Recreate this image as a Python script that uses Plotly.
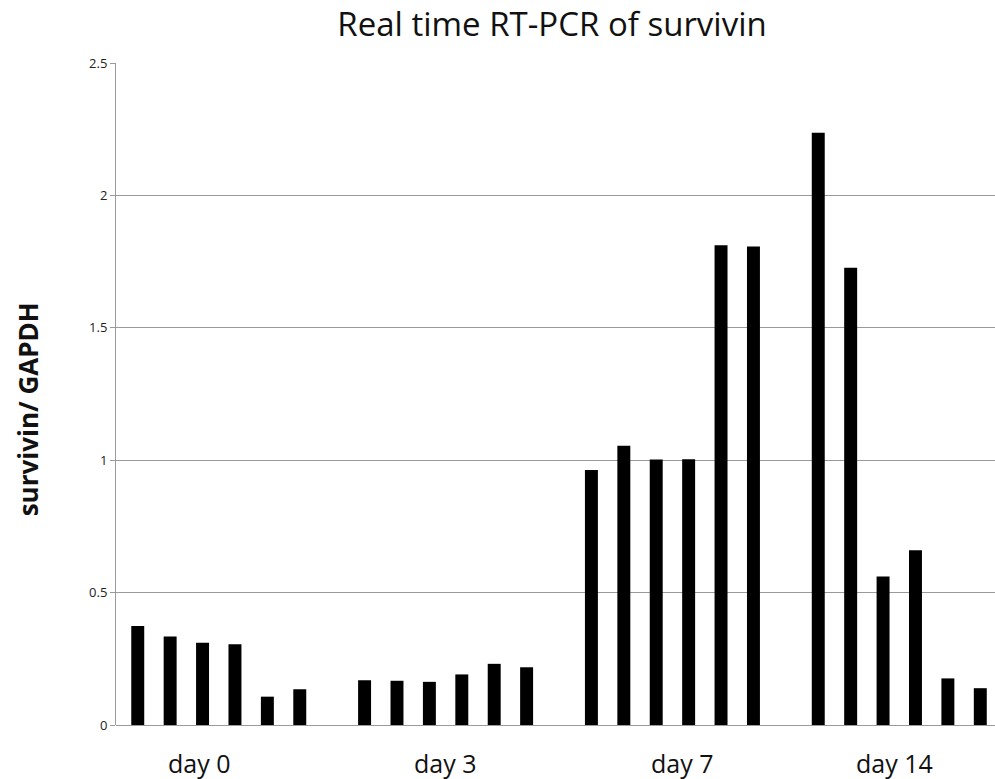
import plotly.graph_objects as go

# Sampling days (x categories)
days = ["day 0", "day 3", "day 7", "day 14"]

# survivin / GAPDH ratio for the six samples measured on each day
day0 = [0.374, 0.334, 0.311, 0.305, 0.107, 0.135]
day3 = [0.169, 0.167, 0.163, 0.191, 0.231, 0.218]
day7 = [0.963, 1.055, 1.003, 1.004, 1.812, 1.807]
day14 = [2.237, 1.727, 0.561, 0.660, 0.176, 0.139]

# Small horizontal nudges (in category units) for the day captions
label_shift = [-0.083, 0.0, 0.044, -0.02]

y_ticks = [0, 0.5, 1, 1.5, 2, 2.5]
y_tick_text = ["0", "0.5", "1", "1.5", "2", "2.5"]

by_day = [day0, day3, day7, day14]
n_samples = len(day0)

fig = go.Figure()
for s in range(n_samples):
    fig.add_trace(go.Bar(
        x=days,
        y=[vals[s] for vals in by_day],
        marker=dict(color="black", line=dict(width=0)),
        showlegend=False,
        hoverinfo="y",
    ))

FONT = "Open Sans, Lato, sans-serif"
GRID = "#9a9a9a"

for i, (name, dx) in enumerate(zip(days, label_shift)):
    fig.add_annotation(
        x=i + dx, y=-0.0574, xref="x", yref="paper",
        text=name, showarrow=False,
        xanchor="center", yanchor="middle",
        font=dict(family=FONT, size=25, color="#111"),
    )

fig.add_annotation(
    x=-0.100, y=0.477, xref="paper", yref="paper",
    text="<b>survivin/ GAPDH</b>", textangle=-90, showarrow=False,
    xanchor="center", yanchor="middle",
    font=dict(family=FONT, size=26, color="#111"),
)

fig.update_layout(
    width=995, height=779,
    margin=dict(l=116, r=0, t=63, b=54),
    paper_bgcolor="white", plot_bgcolor="white",
    barmode="group", bargap=1 / 7, bargroupgap=0.6,
    title=dict(
        text="Real time RT-PCR of survivin",
        x=552 / 995, xref="container", xanchor="center",
        y=1 - 24 / 779, yref="container", yanchor="middle",
        font=dict(family=FONT, size=33, color="#111"),
    ),
    xaxis=dict(
        type="category", range=[-0.453, 3.422],
        showticklabels=False, ticks="", showgrid=False,
        showline=False, zeroline=False,
    ),
    yaxis=dict(
        range=[0, 2.5], tickvals=y_ticks, ticktext=y_tick_text,
        ticks="outside", ticklen=5, tickcolor=GRID, tickwidth=1,
        showgrid=True, gridcolor=GRID, gridwidth=1,
        zeroline=True, zerolinecolor=GRID, zerolinewidth=1,
        showline=True, linecolor=GRID, linewidth=1,
        tickfont=dict(family=FONT, size=13, color="#222"),
    ),
)

fig.write_html("out.html")
